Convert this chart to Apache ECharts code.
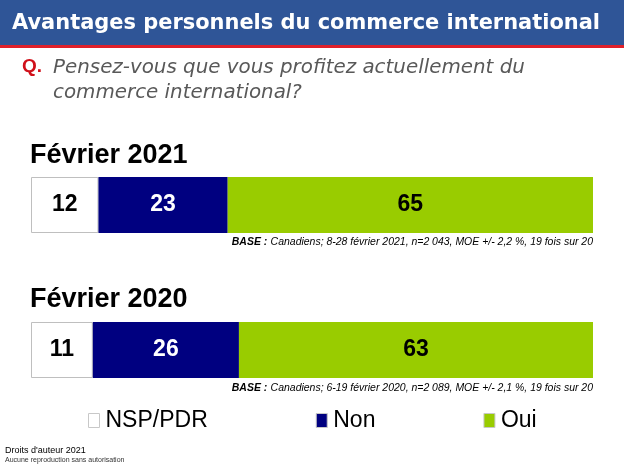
<!DOCTYPE html>
<html><head><meta charset="utf-8">
<script src="https://cdn.jsdelivr.net/npm/echarts@6/dist/echarts.min.js"></script>
<style>html,body{margin:0;padding:0;background:#fff}#c{width:624px;height:468px}</style>
</head><body><div id="c"></div>
<script>
const seriesNames = ['NSP/PDR', 'Non', 'Oui'];
const periods = ['Février 2021', 'Février 2020'];
const nsp = [12, 11];
const non = [23, 26];
const oui = [65, 63];
const bases = [
  'Canadiens; 8-28 février 2021, n=2 043, MOE +/- 2,2 %, 19 fois sur 20',
  'Canadiens; 6-19 février 2020, n=2 089, MOE +/- 2,1 %, 19 fois sur 20'
];
const titleText = 'Avantages personnels du commerce international';
const questionLines = ['Pensez-vous que vous profitez actuellement du', 'commerce international?'];
const colors = ['#FFFFFF', '#000080', '#99CC00'];
const labelColors = ['#000000', '#FFFFFF', '#000000'];
const values = [nsp, non, oui];

// fit a font size so that text spans target width
const mctx = document.createElement('canvas').getContext('2d');
function fitSize(text, style, family, target) {
  mctx.font = style + ' 40px ' + family;
  const w = mctx.measureText(text).width;
  return 40 * target / w;
}
const titleFam = '"DejaVu Sans", sans-serif';
const titleSize = Math.min(24, fitSize(titleText, 'bold', titleFam, 588));
const qFam = '"DejaVu Sans", sans-serif';
const qSize = fitSize(questionLines[0], 'italic', qFam, 472);
const baseFam = '"Liberation Sans", Arial';
mctx.font = 'italic bold 40px ' + baseFam;
const bw1 = mctx.measureText('BASE : ').width;
mctx.font = 'italic 40px ' + baseFam;
const bw2 = mctx.measureText(bases[0]).width;
const baseSize = 40 * 361 / (bw1 + bw2);

const chart = echarts.init(document.getElementById('c'), null, {renderer: 'canvas'});
const grids = [
  {left: 31, right: 31, top: 177, height: 56},
  {left: 31, right: 31, top: 322, height: 56}
];
const series = [];
for (let g = 0; g < 2; g++) {
  for (let s = 0; s < 3; s++) {
    series.push({
      name: seriesNames[s], type: 'bar', stack: 'st' + g,
      xAxisIndex: g, yAxisIndex: g, barWidth: '100%',
      data: [values[s][g]],
      itemStyle: {color: colors[s], borderColor: '#BFBFBF', borderWidth: s === 0 ? 1 : 0},
      label: {show: true, position: 'inside', color: labelColors[s],
        fontFamily: 'Liberation Sans, Arial', fontWeight: 'bold', fontSize: 23},
      emphasis: {disabled: true}, animation: false
    });
  }
}
function baseText(i, top) {
  return {type: 'text', right: 31, top: top, style: {rich: {
      b: {font: 'italic bold ' + baseSize.toFixed(2) + 'px ' + baseFam, fill: '#000'},
      n: {font: 'italic ' + baseSize.toFixed(2) + 'px ' + baseFam, fill: '#000'}},
    text: '{b|BASE :} {n|' + bases[i] + '}'}};
}
chart.setOption({
  animation: false,
  grid: grids,
  xAxis: [0, 1].map(i => ({gridIndex: i, type: 'value', min: 0, max: 100, show: false})),
  yAxis: [0, 1].map(i => ({gridIndex: i, type: 'category', data: [periods[i]], show: false})),
  legend: {
    data: seriesNames, left: 83, top: 404, itemWidth: 11, itemHeight: 14, itemGap: 108,
    icon: 'rect',
    textStyle: {fontFamily: 'Liberation Sans, Arial', fontSize: 23, color: '#000', padding: [0, 0, 0, 1]},
    itemStyle: {borderColor: '#C8C8C8', borderWidth: 1}
  },
  series: series,
  graphic: [
    {type: 'rect', shape: {x: 0, y: 0, width: 624, height: 45}, style: {fill: '#2F5597'}},
    {type: 'rect', shape: {x: 0, y: 45, width: 624, height: 3}, style: {fill: '#E0202A'}},
    {type: 'text', left: 12, top: 13, style: {text: titleText, fill: '#fff',
      font: 'bold ' + titleSize.toFixed(2) + 'px ' + titleFam}},
    {type: 'text', left: 22, top: 57, style: {text: 'Q.', fill: '#D0101A', font: 'bold 19px "Liberation Sans", Arial'}},
    {type: 'text', left: 53, top: 55, style: {text: questionLines.join('\n'),
      fill: '#595959', font: 'italic ' + qSize.toFixed(2) + 'px ' + qFam, lineHeight: 25}},
    {type: 'text', left: 30, top: 142, style: {text: periods[0], fill: '#000', font: 'bold 27px "Liberation Sans", Arial'}},
    {type: 'text', left: 30, top: 286, style: {text: periods[1], fill: '#000', font: 'bold 27px "Liberation Sans", Arial'}},
    baseText(0, 236),
    baseText(1, 382),
    {type: 'text', left: 5, top: 446, style: {text: "Droits d'auteur 2021", fill: '#000', font: '9px "Liberation Sans", Arial'}},
    {type: 'text', left: 5, top: 457, style: {text: 'Aucune reproduction sans autorisation', fill: '#333', font: '7px "Liberation Sans", Arial'}}
  ]
});
</script></body></html>
